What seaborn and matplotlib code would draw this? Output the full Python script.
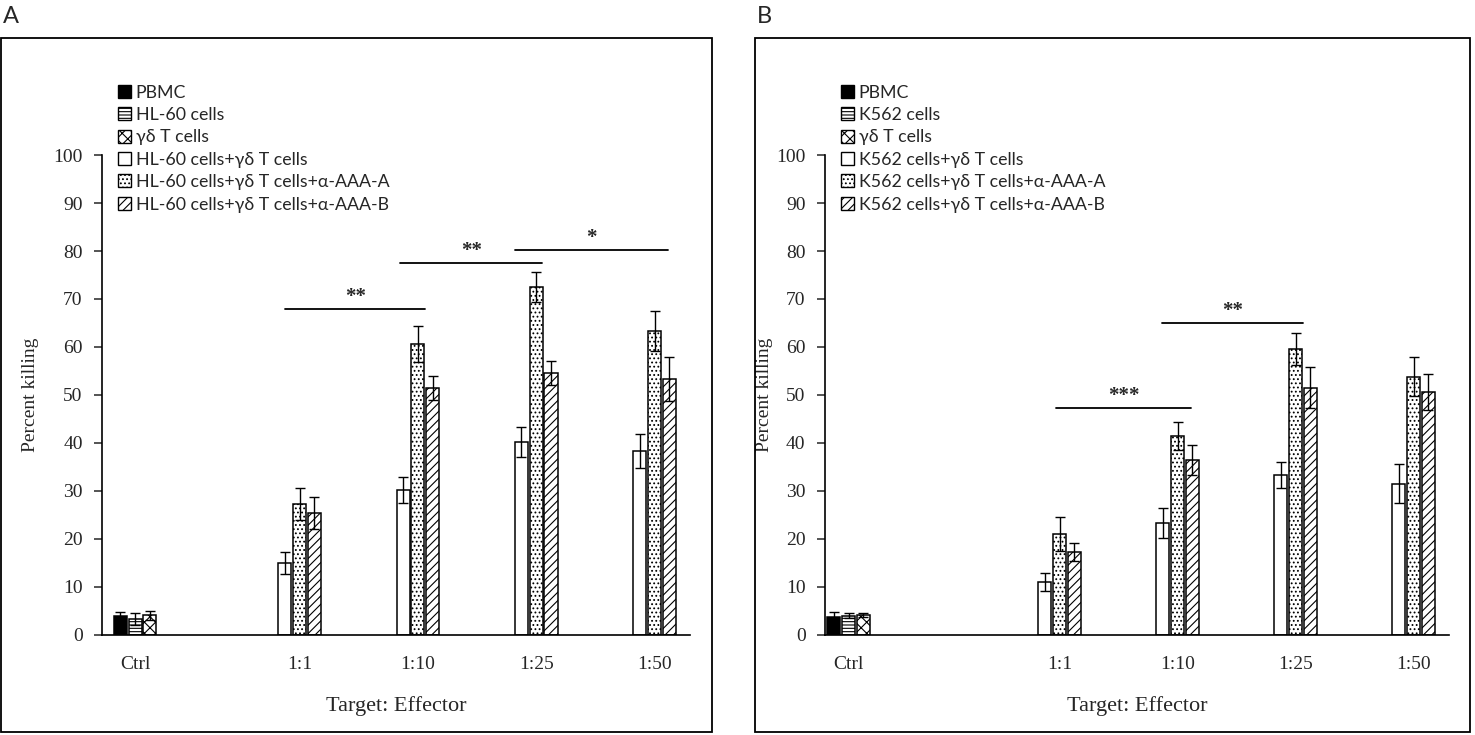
import numpy as np
import pandas as pd
import matplotlib.pyplot as plt
import matplotlib.patches as mpatches
import seaborn as sns

# ------------------------------------------------
# DATA
# ------------------------------------------------
ratios = ["1:1", "1:10", "1:25", "1:50"]

ctrl_names_A = ["PBMC", "HL-60 cells", "γδ T cells"]
treat_names_A = ["HL-60 cells+γδ T cells",
                 "HL-60 cells+γδ T cells+α-AAA-A",
                 "HL-60 cells+γδ T cells+α-AAA-B"]
ctrl_A = [3.9, 3.3, 4.1]
ctrl_err_A = [0.9, 1.2, 0.9]
mix_A = [15.0, 30.2, 40.2, 38.3]
mix_err_A = [2.3, 2.7, 3.1, 3.6]
abA_A = [27.3, 60.6, 72.5, 63.3]
abA_err_A = [3.3, 3.8, 3.1, 4.2]
abB_A = [25.4, 51.5, 54.6, 53.3]
abB_err_A = [3.4, 2.5, 2.5, 4.6]

ctrl_names_B = ["PBMC", "K562 cells", "γδ T cells"]
treat_names_B = ["K562 cells+γδ T cells",
                 "K562 cells+γδ T cells+α-AAA-A",
                 "K562 cells+γδ T cells+α-AAA-B"]
ctrl_B = [3.8, 4.0, 4.2]
ctrl_err_B = [0.9, 0.5, 0.4]
mix_B = [11.0, 23.3, 33.3, 31.5]
mix_err_B = [1.9, 3.2, 2.7, 4.1]
abA_B = [21.0, 41.5, 59.6, 53.8]
abA_err_B = [3.6, 2.9, 3.3, 4.1]
abB_B = [17.3, 36.5, 51.5, 50.6]
abB_err_B = [1.9, 3.1, 4.3, 3.8]

# significance: (label, y value)
sig_labels_A = ["**", "**", "*"]
sig_y_A = [67.9, 77.5, 80.2]
sig_labels_B = ["***", "**"]
sig_y_B = [47.3, 65.0]

# ------------------------------------------------
# LAYOUT / STYLE
# ------------------------------------------------
sns.set_style("white")
plt.rcParams['font.family'] = ['Liberation Serif', 'DejaVu Serif']
plt.rcParams['hatch.linewidth'] = 0.8

hatches = ["", "-----", "xxx", "", "....", "////"]
faces = ["black", "white", "white", "white", "white", "white"]
sans = ['Lato', 'DejaVu Sans']


def draw_panel(ax, ctrl_names, ctrl_vals, ctrl_errs, treat_names, treat_vals,
               treat_errs, ctrl_x, xlim, sig_labels, sig_y, sig_spans, leg_xy, ylab_pad):
    pal = dict(zip(ctrl_names + treat_names, faces))

    ctrl_df = pd.DataFrame({"x": [ctrl_x] * 3, "group": ctrl_names, "value": ctrl_vals})
    rows = []
    for name, vals in zip(treat_names, treat_vals):
        for i, v in enumerate(vals):
            rows.append({"x": float(i), "group": name, "value": v})
    treat_df = pd.DataFrame(rows)

    for df, names in [(ctrl_df, ctrl_names), (treat_df, treat_names)]:
        sns.barplot(data=df, x="x", y="value", hue="group", hue_order=names,
                    palette=pal, native_scale=True, width=0.375, gap=0.12,
                    edgecolor="black", linewidth=1.1, saturation=1,
                    errorbar=None, legend=False, ax=ax)

    all_errs = [[e] for e in ctrl_errs] + treat_errs
    for cont, h, errs in zip(ax.containers, hatches, all_errs):
        xs, tops = [], []
        for p in cont.patches:
            p.set_hatch(h)
            xs.append(p.get_x() + p.get_width() / 2)
            tops.append(p.get_height())
        ax.errorbar(xs, tops, yerr=errs, fmt='none', ecolor='black',
                    elinewidth=1, capsize=3.5, capthick=1, zorder=4)

    for lab, y, (x0, x1) in zip(sig_labels, sig_y, sig_spans):
        ax.plot([x0, x1], [y, y], color='black', lw=1.3)
        ax.text((x0 + x1) / 2, y + 0.4, lab, ha='center', va='bottom',
                fontsize=15, fontweight='bold')

    ax.set_xlim(*xlim)
    ax.set_ylim(0, 100)
    ax.set_yticks(range(0, 101, 10))
    ax.set_xticks([ctrl_x] + list(range(len(ratios))))
    ax.set_xticklabels(["Ctrl"] + ratios)
    ax.tick_params(axis='x', length=0, pad=15, labelsize=14)
    ax.tick_params(axis='y', direction='out', left=True, length=6, width=1.1,
                   pad=8, labelsize=14)
    ax.set_xlabel("Target: Effector", fontsize=16, labelpad=17)
    ax.set_ylabel("Percent killing", fontsize=14, labelpad=ylab_pad)
    ax.spines[['top', 'right']].set_visible(False)
    for s in ['left', 'bottom']:
        ax.spines[s].set_color('black')
        ax.spines[s].set_linewidth(1.2)

    handles = [mpatches.Patch(facecolor=f, edgecolor='black', hatch=h, linewidth=1)
               for f, h in zip(faces, hatches)]
    ax.legend(handles, ctrl_names + treat_names, loc='upper left',
              bbox_to_anchor=leg_xy, bbox_transform=fig.transFigure,
              frameon=False, prop={'family': sans, 'size': 12.8},
              handlelength=0.75, handleheight=0.75, handletextpad=0.25,
              labelspacing=0.36, borderpad=0, borderaxespad=0)


fig = plt.figure(figsize=(14.75, 7.35), dpi=100)
axA = fig.add_axes([0.0692, 0.1361, 0.3986, 0.653])
axB = fig.add_axes([0.5593, 0.1361, 0.4231, 0.653])

draw_panel(axA, ctrl_names_A, ctrl_A, ctrl_err_A, treat_names_A,
           [mix_A, abA_A, abB_A], [mix_err_A, abA_err_A, abB_err_A],
           ctrl_x=-1.39, xlim=(-1.67, 3.30),
           sig_labels=sig_labels_A, sig_y=sig_y_A,
           sig_spans=[(-0.12, 1.06), (0.85, 2.05), (1.82, 3.11)],
           leg_xy=(0.0800, 0.885), ylab_pad=10)

draw_panel(axB, ctrl_names_B, ctrl_B, ctrl_err_B, treat_names_B,
           [mix_B, abA_B, abB_B], [mix_err_B, abA_err_B, abB_err_B],
           ctrl_x=-1.79, xlim=(-1.99, 3.30),
           sig_labels=sig_labels_B, sig_y=sig_y_B,
           sig_spans=[(-0.03, 1.11), (0.87, 2.06)],
           leg_xy=(0.5700, 0.885), ylab_pad=2)

# panel frames and letters
fig.add_artist(mpatches.Rectangle((0.001, 0.004), 0.482, 0.944, transform=fig.transFigure,
                                  fill=False, edgecolor='black', lw=1.3))
fig.add_artist(mpatches.Rectangle((0.512, 0.004), 0.4847, 0.944, transform=fig.transFigure,
                                  fill=False, edgecolor='black', lw=1.3))
fig.text(0.002, 0.978, "A", fontsize=17, family=sans, va='center', ha='left')
fig.text(0.513, 0.978, "B", fontsize=17, family=sans, va='center', ha='left')

fig.savefig("out.png", dpi=100)
